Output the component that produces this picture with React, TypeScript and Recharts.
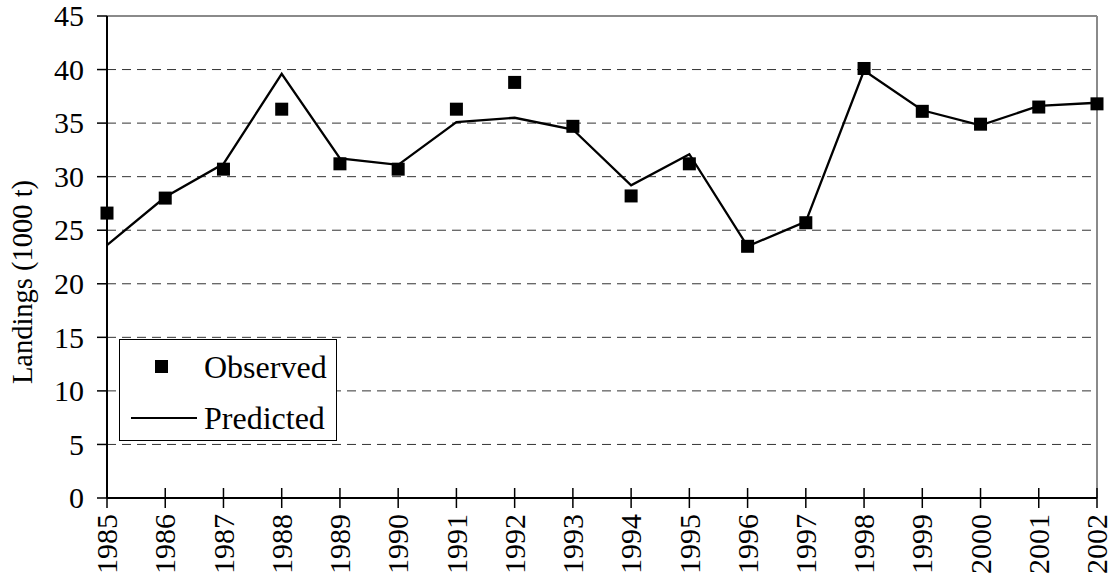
import React from 'react';
import { ComposedChart, Line, Scatter, XAxis, YAxis, CartesianGrid, ReferenceLine } from 'recharts';

const years = [1985, 1986, 1987, 1988, 1989, 1990, 1991, 1992, 1993, 1994, 1995, 1996, 1997, 1998, 1999, 2000, 2001, 2002];
const observed = [26.6, 28.0, 30.7, 36.3, 31.2, 30.7, 36.3, 38.8, 34.7, 28.2, 31.2, 23.5, 25.7, 40.1, 36.1, 34.9, 36.5, 36.8];
const predicted = [23.6, 28.1, 31.2, 39.6, 31.7, 31.1, 35.1, 35.5, 34.4, 29.2, 32.1, 23.5, 25.8, 39.9, 36.2, 34.8, 36.6, 36.9];
const yTicks = [0, 5, 10, 15, 20, 25, 30, 35, 40, 45];
const seriesNames = { observed: 'Observed', predicted: 'Predicted' };
const yLabel = 'Landings (1000 t)';

const data = years.map((y, i) => ({ year: y, observed: observed[i], predicted: predicted[i] }));

const FONT = '"Liberation Serif", "Times New Roman", serif';
const fontStyle = { fontFamily: FONT };

const XTick = (props: any) => {
  const { x, y, payload } = props;
  return (
    <g>
      <line x1={x} x2={x} y1={y - 10} y2={y + 10} stroke="#000" strokeWidth={1.5} />
      <text
        x={x - 16}
        y={y}
        dy="0.34em"
        transform={`rotate(-90, ${x}, ${y})`}
        textAnchor="end"
        style={fontStyle}
        fontSize={30}
        fill="#000"
      >
        {payload.value}
      </text>
    </g>
  );
};

const YTick = (props: any) => {
  const { x, y, payload } = props;
  return (
    <text x={x} y={y} dy="0.34em" textAnchor="end" style={fontStyle} fontSize={30} fill="#000">
      {payload.value}
    </text>
  );
};

const Square = (props: any) => {
  const { cx, cy } = props;
  if (cx == null || cy == null) return null;
  return <rect x={cx - 6.5} y={cy - 6.5} width={13} height={13} fill="#000" />;
};

const LegendBox = () => (
  <div style={{ position: 'absolute', left: 119, top: 339, width: 218, height: 102, border: '1.5px solid #000', boxSizing: 'border-box', background: '#fff' }}>
    <svg width={215} height={99} style={{ display: 'block' }}>
      <rect x={35} y={20} width={13} height={13} fill="#000" />
      <text x={84} y={38} style={fontStyle} fontSize={32} fill="#000">{seriesNames.observed}</text>
      <line x1={11} x2={77} y1={78} y2={78} stroke="#000" strokeWidth={2} />
      <text x={84} y={89} style={fontStyle} fontSize={32} fill="#000">{seriesNames.predicted}</text>
    </svg>
  </div>
);

const YLabel = (props: any) => {
  const vb = props.viewBox || {};
  const cx = 32;
  const cy = (vb.y ?? 16) + (vb.height ?? 482) / 2 + 25;
  return (
    <text x={cx} y={cy} transform={`rotate(-90, ${cx}, ${cy})`} textAnchor="middle" style={fontStyle} fontSize={28.5} fill="#000">
      {yLabel}
    </text>
  );
};

export default function App() {
  return (
    <div style={{ position: 'absolute', left: 0, top: 0, width: 1112, height: 584, background: '#fff', fontFamily: FONT }}>
      <ComposedChart width={1112} height={584} data={data} margin={{ top: 16, right: 15, bottom: 0, left: 0 }}>
        <CartesianGrid horizontal vertical={false} stroke="#333" strokeDasharray="9 6" strokeWidth={1} />
        <ReferenceLine y={45} stroke="#8a8a8a" strokeWidth={2} />
        <ReferenceLine x={2002} stroke="#8a8a8a" strokeWidth={2} />
        <XAxis
          dataKey="year"
          type="number"
          domain={[1985, 2002]}
          ticks={years}
          interval={0}
          height={86}
          tickSize={0}
          tickMargin={0}
          tickLine={false}
          axisLine={{ stroke: '#000', strokeWidth: 2 }}
          tick={<XTick />}
        />
        <YAxis
          type="number"
          domain={[0, 45]}
          ticks={yTicks}
          interval={0}
          width={107}
          tickSize={10}
          tickMargin={13}
          tickLine={{ stroke: '#000', strokeWidth: 1.5 }}
          axisLine={{ stroke: '#000', strokeWidth: 2 }}
          tick={<YTick />}
          label={<YLabel />}
        />
        <Line dataKey="predicted" name={seriesNames.predicted} stroke="#000" strokeWidth={2.3} dot={false} isAnimationActive={false} />
        <Scatter dataKey="observed" name={seriesNames.observed} fill="#000" shape={<Square />} isAnimationActive={false} />
      </ComposedChart>
      <LegendBox />
    </div>
  );
}
